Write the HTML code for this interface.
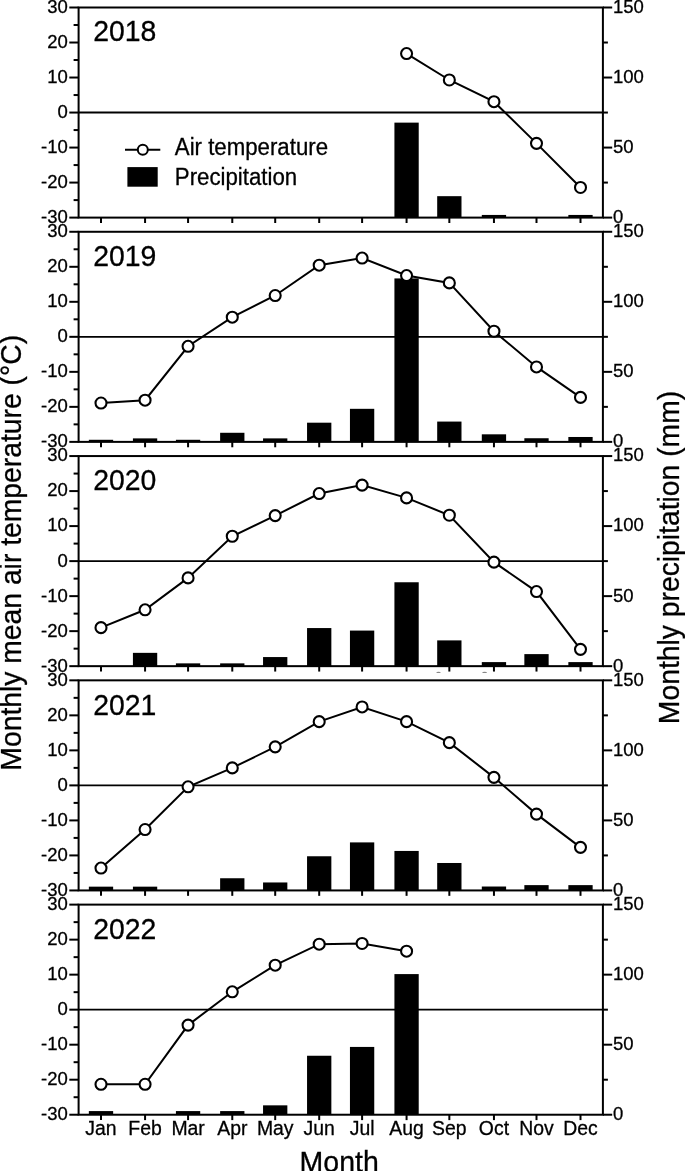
<!DOCTYPE html>
<html><head><meta charset="utf-8"><title>Monthly air temperature and precipitation</title>
<style>html,body{margin:0;padding:0;background:#fff;}body{width:685px;height:1171px;overflow:hidden;}svg{display:block;will-change:transform;}text{font-family:"Liberation Sans",sans-serif;fill:#000;stroke:#000;stroke-width:0.3px;}</style>
</head><body>
<svg width="685" height="1171" viewBox="0 0 685 1171">
<rect x="0" y="0" width="685" height="1171" fill="#fff"/>
<g>
<rect x="394.42" y="122.63" width="24.3" height="94.97" fill="#000"/>
<rect x="437.19" y="196.17" width="24.3" height="21.43" fill="#000"/>
<rect x="481.8" y="214.94" width="24.3" height="2.66" fill="#000"/>
<rect x="568.35" y="214.94" width="24.3" height="2.66" fill="#000"/>
<line x1="78.6" y1="112.55" x2="602.9" y2="112.55" stroke="#000" stroke-width="1.9"/>
<rect x="78.6" y="7.5" width="524.3" height="210.1" fill="none" stroke="#000" stroke-width="2"/>
<line x1="69.3" y1="7.5" x2="78.6" y2="7.5" stroke="#000" stroke-width="2"/>
<line x1="73.6" y1="25.01" x2="78.6" y2="25.01" stroke="#000" stroke-width="2"/>
<line x1="69.3" y1="42.52" x2="78.6" y2="42.52" stroke="#000" stroke-width="2"/>
<line x1="73.6" y1="60.02" x2="78.6" y2="60.02" stroke="#000" stroke-width="2"/>
<line x1="69.3" y1="77.53" x2="78.6" y2="77.53" stroke="#000" stroke-width="2"/>
<line x1="73.6" y1="95.04" x2="78.6" y2="95.04" stroke="#000" stroke-width="2"/>
<line x1="69.3" y1="112.55" x2="78.6" y2="112.55" stroke="#000" stroke-width="2"/>
<line x1="73.6" y1="130.06" x2="78.6" y2="130.06" stroke="#000" stroke-width="2"/>
<line x1="69.3" y1="147.57" x2="78.6" y2="147.57" stroke="#000" stroke-width="2"/>
<line x1="73.6" y1="165.07" x2="78.6" y2="165.07" stroke="#000" stroke-width="2"/>
<line x1="69.3" y1="182.58" x2="78.6" y2="182.58" stroke="#000" stroke-width="2"/>
<line x1="73.6" y1="200.09" x2="78.6" y2="200.09" stroke="#000" stroke-width="2"/>
<line x1="69.3" y1="217.6" x2="78.6" y2="217.6" stroke="#000" stroke-width="2"/>
<line x1="602.9" y1="7.5" x2="612.2" y2="7.5" stroke="#000" stroke-width="2"/>
<line x1="602.9" y1="42.52" x2="607.9" y2="42.52" stroke="#000" stroke-width="2"/>
<line x1="602.9" y1="77.53" x2="612.2" y2="77.53" stroke="#000" stroke-width="2"/>
<line x1="602.9" y1="112.55" x2="607.9" y2="112.55" stroke="#000" stroke-width="2"/>
<line x1="602.9" y1="147.57" x2="612.2" y2="147.57" stroke="#000" stroke-width="2"/>
<line x1="602.9" y1="182.58" x2="607.9" y2="182.58" stroke="#000" stroke-width="2"/>
<line x1="602.9" y1="217.6" x2="612.2" y2="217.6" stroke="#000" stroke-width="2"/>
<line x1="101" y1="217.6" x2="101" y2="223" stroke="#000" stroke-width="2"/>
<line x1="145.07" y1="217.6" x2="145.07" y2="223" stroke="#000" stroke-width="2"/>
<line x1="188.07" y1="217.6" x2="188.07" y2="223" stroke="#000" stroke-width="2"/>
<line x1="232.28" y1="217.6" x2="232.28" y2="223" stroke="#000" stroke-width="2"/>
<line x1="275.2" y1="217.6" x2="275.2" y2="223" stroke="#000" stroke-width="2"/>
<line x1="319.2" y1="217.6" x2="319.2" y2="223" stroke="#000" stroke-width="2"/>
<line x1="362.1" y1="217.6" x2="362.1" y2="223" stroke="#000" stroke-width="2"/>
<line x1="406.57" y1="217.6" x2="406.57" y2="223" stroke="#000" stroke-width="2"/>
<line x1="449.34" y1="217.6" x2="449.34" y2="223" stroke="#000" stroke-width="2"/>
<line x1="493.95" y1="217.6" x2="493.95" y2="223" stroke="#000" stroke-width="2"/>
<line x1="536.5" y1="217.6" x2="536.5" y2="223" stroke="#000" stroke-width="2"/>
<line x1="580.5" y1="217.6" x2="580.5" y2="223" stroke="#000" stroke-width="2"/>
<text transform="translate(67.8 12.9) scale(0.9615 1)" font-size="19.24" text-anchor="end">30</text>
<text transform="translate(67.8 47.92) scale(0.9615 1)" font-size="19.24" text-anchor="end">20</text>
<text transform="translate(67.8 82.93) scale(0.9615 1)" font-size="19.24" text-anchor="end">10</text>
<text transform="translate(67.8 117.95) scale(0.9615 1)" font-size="19.24" text-anchor="end">0</text>
<text transform="translate(67.8 152.97) scale(0.9615 1)" font-size="19.24" text-anchor="end">-10</text>
<text transform="translate(67.8 187.98) scale(0.9615 1)" font-size="19.24" text-anchor="end">-20</text>
<text transform="translate(67.8 223) scale(0.9615 1)" font-size="19.24" text-anchor="end">-30</text>
<text transform="translate(613 12.9) scale(0.9615 1)" font-size="19.24">150</text>
<text transform="translate(613 82.93) scale(0.9615 1)" font-size="19.24">100</text>
<text transform="translate(613 152.97) scale(0.9615 1)" font-size="19.24">50</text>
<text transform="translate(613 223) scale(0.9615 1)" font-size="19.24">0</text>
<text transform="translate(93.2 40.6) scale(0.9615 1)" font-size="29.54">2018</text>
<polyline points="406.57,53.55 449.34,79.98 493.95,101.69 536.5,143.36 580.5,187.49" fill="none" stroke="#000" stroke-width="2" stroke-linejoin="miter"/>
<circle cx="406.57" cy="53.55" r="5.5" fill="#fff" stroke="#000" stroke-width="2.1"/>
<circle cx="449.34" cy="79.98" r="5.5" fill="#fff" stroke="#000" stroke-width="2.1"/>
<circle cx="493.95" cy="101.69" r="5.5" fill="#fff" stroke="#000" stroke-width="2.1"/>
<circle cx="536.5" cy="143.36" r="5.5" fill="#fff" stroke="#000" stroke-width="2.1"/>
<circle cx="580.5" cy="187.49" r="5.5" fill="#fff" stroke="#000" stroke-width="2.1"/>
</g>
<g>
<rect x="88.85" y="439.78" width="24.3" height="2.1" fill="#000"/>
<rect x="132.92" y="438.38" width="24.3" height="3.5" fill="#000"/>
<rect x="175.92" y="439.78" width="24.3" height="2.1" fill="#000"/>
<rect x="220.13" y="432.78" width="24.3" height="9.1" fill="#000"/>
<rect x="263.05" y="438.38" width="24.3" height="3.5" fill="#000"/>
<rect x="307.05" y="422.69" width="24.3" height="19.19" fill="#000"/>
<rect x="349.95" y="408.82" width="24.3" height="33.06" fill="#000"/>
<rect x="394.42" y="278.42" width="24.3" height="163.46" fill="#000"/>
<rect x="437.19" y="421.57" width="24.3" height="20.31" fill="#000"/>
<rect x="481.8" y="434.32" width="24.3" height="7.56" fill="#000"/>
<rect x="524.35" y="438.24" width="24.3" height="3.64" fill="#000"/>
<rect x="568.35" y="436.98" width="24.3" height="4.9" fill="#000"/>
<line x1="78.6" y1="336.83" x2="602.9" y2="336.83" stroke="#000" stroke-width="1.9"/>
<rect x="78.6" y="231.78" width="524.3" height="210.1" fill="none" stroke="#000" stroke-width="2"/>
<line x1="69.3" y1="231.78" x2="78.6" y2="231.78" stroke="#000" stroke-width="2"/>
<line x1="73.6" y1="249.29" x2="78.6" y2="249.29" stroke="#000" stroke-width="2"/>
<line x1="69.3" y1="266.8" x2="78.6" y2="266.8" stroke="#000" stroke-width="2"/>
<line x1="73.6" y1="284.31" x2="78.6" y2="284.31" stroke="#000" stroke-width="2"/>
<line x1="69.3" y1="301.81" x2="78.6" y2="301.81" stroke="#000" stroke-width="2"/>
<line x1="73.6" y1="319.32" x2="78.6" y2="319.32" stroke="#000" stroke-width="2"/>
<line x1="69.3" y1="336.83" x2="78.6" y2="336.83" stroke="#000" stroke-width="2"/>
<line x1="73.6" y1="354.34" x2="78.6" y2="354.34" stroke="#000" stroke-width="2"/>
<line x1="69.3" y1="371.85" x2="78.6" y2="371.85" stroke="#000" stroke-width="2"/>
<line x1="73.6" y1="389.36" x2="78.6" y2="389.36" stroke="#000" stroke-width="2"/>
<line x1="69.3" y1="406.86" x2="78.6" y2="406.86" stroke="#000" stroke-width="2"/>
<line x1="73.6" y1="424.37" x2="78.6" y2="424.37" stroke="#000" stroke-width="2"/>
<line x1="69.3" y1="441.88" x2="78.6" y2="441.88" stroke="#000" stroke-width="2"/>
<line x1="602.9" y1="231.78" x2="612.2" y2="231.78" stroke="#000" stroke-width="2"/>
<line x1="602.9" y1="266.8" x2="607.9" y2="266.8" stroke="#000" stroke-width="2"/>
<line x1="602.9" y1="301.81" x2="612.2" y2="301.81" stroke="#000" stroke-width="2"/>
<line x1="602.9" y1="336.83" x2="607.9" y2="336.83" stroke="#000" stroke-width="2"/>
<line x1="602.9" y1="371.85" x2="612.2" y2="371.85" stroke="#000" stroke-width="2"/>
<line x1="602.9" y1="406.86" x2="607.9" y2="406.86" stroke="#000" stroke-width="2"/>
<line x1="602.9" y1="441.88" x2="612.2" y2="441.88" stroke="#000" stroke-width="2"/>
<line x1="101" y1="441.88" x2="101" y2="447.28" stroke="#000" stroke-width="2"/>
<line x1="145.07" y1="441.88" x2="145.07" y2="447.28" stroke="#000" stroke-width="2"/>
<line x1="188.07" y1="441.88" x2="188.07" y2="447.28" stroke="#000" stroke-width="2"/>
<line x1="232.28" y1="441.88" x2="232.28" y2="447.28" stroke="#000" stroke-width="2"/>
<line x1="275.2" y1="441.88" x2="275.2" y2="447.28" stroke="#000" stroke-width="2"/>
<line x1="319.2" y1="441.88" x2="319.2" y2="447.28" stroke="#000" stroke-width="2"/>
<line x1="362.1" y1="441.88" x2="362.1" y2="447.28" stroke="#000" stroke-width="2"/>
<line x1="406.57" y1="441.88" x2="406.57" y2="447.28" stroke="#000" stroke-width="2"/>
<line x1="449.34" y1="441.88" x2="449.34" y2="447.28" stroke="#000" stroke-width="2"/>
<line x1="493.95" y1="441.88" x2="493.95" y2="447.28" stroke="#000" stroke-width="2"/>
<line x1="536.5" y1="441.88" x2="536.5" y2="447.28" stroke="#000" stroke-width="2"/>
<line x1="580.5" y1="441.88" x2="580.5" y2="447.28" stroke="#000" stroke-width="2"/>
<text transform="translate(67.8 237.18) scale(0.9615 1)" font-size="19.24" text-anchor="end">30</text>
<text transform="translate(67.8 272.2) scale(0.9615 1)" font-size="19.24" text-anchor="end">20</text>
<text transform="translate(67.8 307.21) scale(0.9615 1)" font-size="19.24" text-anchor="end">10</text>
<text transform="translate(67.8 342.23) scale(0.9615 1)" font-size="19.24" text-anchor="end">0</text>
<text transform="translate(67.8 377.25) scale(0.9615 1)" font-size="19.24" text-anchor="end">-10</text>
<text transform="translate(67.8 412.26) scale(0.9615 1)" font-size="19.24" text-anchor="end">-20</text>
<text transform="translate(67.8 447.28) scale(0.9615 1)" font-size="19.24" text-anchor="end">-30</text>
<text transform="translate(613 237.18) scale(0.9615 1)" font-size="19.24">150</text>
<text transform="translate(613 307.21) scale(0.9615 1)" font-size="19.24">100</text>
<text transform="translate(613 377.25) scale(0.9615 1)" font-size="19.24">50</text>
<text transform="translate(613 447.28) scale(0.9615 1)" font-size="19.24">0</text>
<text transform="translate(93.2 265.6) scale(0.9615 1)" font-size="29.54">2019</text>
<polyline points="101,403.01 145.07,400.21 188.07,346.28 232.28,317.22 275.2,295.51 319.2,265.22 362.1,258.04 406.57,275.55 449.34,282.9 493.95,331.23 536.5,366.94 580.5,397.41" fill="none" stroke="#000" stroke-width="2" stroke-linejoin="miter"/>
<circle cx="101" cy="403.01" r="5.5" fill="#fff" stroke="#000" stroke-width="2.1"/>
<circle cx="145.07" cy="400.21" r="5.5" fill="#fff" stroke="#000" stroke-width="2.1"/>
<circle cx="188.07" cy="346.28" r="5.5" fill="#fff" stroke="#000" stroke-width="2.1"/>
<circle cx="232.28" cy="317.22" r="5.5" fill="#fff" stroke="#000" stroke-width="2.1"/>
<circle cx="275.2" cy="295.51" r="5.5" fill="#fff" stroke="#000" stroke-width="2.1"/>
<circle cx="319.2" cy="265.22" r="5.5" fill="#fff" stroke="#000" stroke-width="2.1"/>
<circle cx="362.1" cy="258.04" r="5.5" fill="#fff" stroke="#000" stroke-width="2.1"/>
<circle cx="406.57" cy="275.55" r="5.5" fill="#fff" stroke="#000" stroke-width="2.1"/>
<circle cx="449.34" cy="282.9" r="5.5" fill="#fff" stroke="#000" stroke-width="2.1"/>
<circle cx="493.95" cy="331.23" r="5.5" fill="#fff" stroke="#000" stroke-width="2.1"/>
<circle cx="536.5" cy="366.94" r="5.5" fill="#fff" stroke="#000" stroke-width="2.1"/>
<circle cx="580.5" cy="397.41" r="5.5" fill="#fff" stroke="#000" stroke-width="2.1"/>
</g>
<g>
<rect x="132.92" y="652.85" width="24.3" height="13.31" fill="#000"/>
<rect x="175.92" y="663.36" width="24.3" height="2.8" fill="#000"/>
<rect x="220.13" y="663.36" width="24.3" height="2.8" fill="#000"/>
<rect x="263.05" y="657.06" width="24.3" height="9.1" fill="#000"/>
<rect x="307.05" y="628.06" width="24.3" height="38.1" fill="#000"/>
<rect x="349.95" y="630.58" width="24.3" height="35.58" fill="#000"/>
<rect x="394.42" y="582.26" width="24.3" height="83.9" fill="#000"/>
<rect x="437.19" y="640.39" width="24.3" height="25.77" fill="#000"/>
<rect x="481.8" y="662.1" width="24.3" height="4.06" fill="#000"/>
<rect x="524.35" y="654.11" width="24.3" height="12.05" fill="#000"/>
<rect x="568.35" y="662.1" width="24.3" height="4.06" fill="#000"/>
<line x1="78.6" y1="561.11" x2="602.9" y2="561.11" stroke="#000" stroke-width="1.9"/>
<rect x="78.6" y="456.06" width="524.3" height="210.1" fill="none" stroke="#000" stroke-width="2"/>
<line x1="69.3" y1="456.06" x2="78.6" y2="456.06" stroke="#000" stroke-width="2"/>
<line x1="73.6" y1="473.57" x2="78.6" y2="473.57" stroke="#000" stroke-width="2"/>
<line x1="69.3" y1="491.08" x2="78.6" y2="491.08" stroke="#000" stroke-width="2"/>
<line x1="73.6" y1="508.58" x2="78.6" y2="508.58" stroke="#000" stroke-width="2"/>
<line x1="69.3" y1="526.09" x2="78.6" y2="526.09" stroke="#000" stroke-width="2"/>
<line x1="73.6" y1="543.6" x2="78.6" y2="543.6" stroke="#000" stroke-width="2"/>
<line x1="69.3" y1="561.11" x2="78.6" y2="561.11" stroke="#000" stroke-width="2"/>
<line x1="73.6" y1="578.62" x2="78.6" y2="578.62" stroke="#000" stroke-width="2"/>
<line x1="69.3" y1="596.13" x2="78.6" y2="596.13" stroke="#000" stroke-width="2"/>
<line x1="73.6" y1="613.63" x2="78.6" y2="613.63" stroke="#000" stroke-width="2"/>
<line x1="69.3" y1="631.14" x2="78.6" y2="631.14" stroke="#000" stroke-width="2"/>
<line x1="73.6" y1="648.65" x2="78.6" y2="648.65" stroke="#000" stroke-width="2"/>
<line x1="69.3" y1="666.16" x2="78.6" y2="666.16" stroke="#000" stroke-width="2"/>
<line x1="602.9" y1="456.06" x2="612.2" y2="456.06" stroke="#000" stroke-width="2"/>
<line x1="602.9" y1="491.08" x2="607.9" y2="491.08" stroke="#000" stroke-width="2"/>
<line x1="602.9" y1="526.09" x2="612.2" y2="526.09" stroke="#000" stroke-width="2"/>
<line x1="602.9" y1="561.11" x2="607.9" y2="561.11" stroke="#000" stroke-width="2"/>
<line x1="602.9" y1="596.13" x2="612.2" y2="596.13" stroke="#000" stroke-width="2"/>
<line x1="602.9" y1="631.14" x2="607.9" y2="631.14" stroke="#000" stroke-width="2"/>
<line x1="602.9" y1="666.16" x2="612.2" y2="666.16" stroke="#000" stroke-width="2"/>
<line x1="101" y1="666.16" x2="101" y2="671.56" stroke="#000" stroke-width="2"/>
<line x1="145.07" y1="666.16" x2="145.07" y2="671.56" stroke="#000" stroke-width="2"/>
<line x1="188.07" y1="666.16" x2="188.07" y2="671.56" stroke="#000" stroke-width="2"/>
<line x1="232.28" y1="666.16" x2="232.28" y2="671.56" stroke="#000" stroke-width="2"/>
<line x1="275.2" y1="666.16" x2="275.2" y2="671.56" stroke="#000" stroke-width="2"/>
<line x1="319.2" y1="666.16" x2="319.2" y2="671.56" stroke="#000" stroke-width="2"/>
<line x1="362.1" y1="666.16" x2="362.1" y2="671.56" stroke="#000" stroke-width="2"/>
<line x1="406.57" y1="666.16" x2="406.57" y2="671.56" stroke="#000" stroke-width="2"/>
<line x1="449.34" y1="666.16" x2="449.34" y2="671.56" stroke="#000" stroke-width="2"/>
<line x1="493.95" y1="666.16" x2="493.95" y2="671.56" stroke="#000" stroke-width="2"/>
<line x1="536.5" y1="666.16" x2="536.5" y2="671.56" stroke="#000" stroke-width="2"/>
<line x1="580.5" y1="666.16" x2="580.5" y2="671.56" stroke="#000" stroke-width="2"/>
<text transform="translate(67.8 461.46) scale(0.9615 1)" font-size="19.24" text-anchor="end">30</text>
<text transform="translate(67.8 496.48) scale(0.9615 1)" font-size="19.24" text-anchor="end">20</text>
<text transform="translate(67.8 531.49) scale(0.9615 1)" font-size="19.24" text-anchor="end">10</text>
<text transform="translate(67.8 566.51) scale(0.9615 1)" font-size="19.24" text-anchor="end">0</text>
<text transform="translate(67.8 601.53) scale(0.9615 1)" font-size="19.24" text-anchor="end">-10</text>
<text transform="translate(67.8 636.54) scale(0.9615 1)" font-size="19.24" text-anchor="end">-20</text>
<text transform="translate(67.8 671.56) scale(0.9615 1)" font-size="19.24" text-anchor="end">-30</text>
<text transform="translate(613 461.46) scale(0.9615 1)" font-size="19.24">150</text>
<text transform="translate(613 531.49) scale(0.9615 1)" font-size="19.24">100</text>
<text transform="translate(613 601.53) scale(0.9615 1)" font-size="19.24">50</text>
<text transform="translate(613 671.56) scale(0.9615 1)" font-size="19.24">0</text>
<text transform="translate(93.2 490.4) scale(0.9615 1)" font-size="29.54">2020</text>
<polyline points="101,627.64 145.07,609.78 188.07,577.92 232.28,536.25 275.2,515.59 319.2,493.53 362.1,485.12 406.57,497.9 449.34,515.24 493.95,562.16 536.5,591.57 580.5,649.35" fill="none" stroke="#000" stroke-width="2" stroke-linejoin="miter"/>
<circle cx="101" cy="627.64" r="5.5" fill="#fff" stroke="#000" stroke-width="2.1"/>
<circle cx="145.07" cy="609.78" r="5.5" fill="#fff" stroke="#000" stroke-width="2.1"/>
<circle cx="188.07" cy="577.92" r="5.5" fill="#fff" stroke="#000" stroke-width="2.1"/>
<circle cx="232.28" cy="536.25" r="5.5" fill="#fff" stroke="#000" stroke-width="2.1"/>
<circle cx="275.2" cy="515.59" r="5.5" fill="#fff" stroke="#000" stroke-width="2.1"/>
<circle cx="319.2" cy="493.53" r="5.5" fill="#fff" stroke="#000" stroke-width="2.1"/>
<circle cx="362.1" cy="485.12" r="5.5" fill="#fff" stroke="#000" stroke-width="2.1"/>
<circle cx="406.57" cy="497.9" r="5.5" fill="#fff" stroke="#000" stroke-width="2.1"/>
<circle cx="449.34" cy="515.24" r="5.5" fill="#fff" stroke="#000" stroke-width="2.1"/>
<circle cx="493.95" cy="562.16" r="5.5" fill="#fff" stroke="#000" stroke-width="2.1"/>
<circle cx="536.5" cy="591.57" r="5.5" fill="#fff" stroke="#000" stroke-width="2.1"/>
<circle cx="580.5" cy="649.35" r="5.5" fill="#fff" stroke="#000" stroke-width="2.1"/>
</g>
<g>
<rect x="88.85" y="886.66" width="24.3" height="3.78" fill="#000"/>
<rect x="132.92" y="886.66" width="24.3" height="3.78" fill="#000"/>
<rect x="220.13" y="878.25" width="24.3" height="12.19" fill="#000"/>
<rect x="263.05" y="882.46" width="24.3" height="7.98" fill="#000"/>
<rect x="307.05" y="856.26" width="24.3" height="34.18" fill="#000"/>
<rect x="349.95" y="842.4" width="24.3" height="48.04" fill="#000"/>
<rect x="394.42" y="850.94" width="24.3" height="39.5" fill="#000"/>
<rect x="437.19" y="862.99" width="24.3" height="27.45" fill="#000"/>
<rect x="481.8" y="886.52" width="24.3" height="3.92" fill="#000"/>
<rect x="524.35" y="885.12" width="24.3" height="5.32" fill="#000"/>
<rect x="568.35" y="885.12" width="24.3" height="5.32" fill="#000"/>
<line x1="78.6" y1="785.39" x2="602.9" y2="785.39" stroke="#000" stroke-width="1.9"/>
<rect x="78.6" y="680.34" width="524.3" height="210.1" fill="none" stroke="#000" stroke-width="2"/>
<line x1="69.3" y1="680.34" x2="78.6" y2="680.34" stroke="#000" stroke-width="2"/>
<line x1="73.6" y1="697.85" x2="78.6" y2="697.85" stroke="#000" stroke-width="2"/>
<line x1="69.3" y1="715.36" x2="78.6" y2="715.36" stroke="#000" stroke-width="2"/>
<line x1="73.6" y1="732.87" x2="78.6" y2="732.87" stroke="#000" stroke-width="2"/>
<line x1="69.3" y1="750.37" x2="78.6" y2="750.37" stroke="#000" stroke-width="2"/>
<line x1="73.6" y1="767.88" x2="78.6" y2="767.88" stroke="#000" stroke-width="2"/>
<line x1="69.3" y1="785.39" x2="78.6" y2="785.39" stroke="#000" stroke-width="2"/>
<line x1="73.6" y1="802.9" x2="78.6" y2="802.9" stroke="#000" stroke-width="2"/>
<line x1="69.3" y1="820.41" x2="78.6" y2="820.41" stroke="#000" stroke-width="2"/>
<line x1="73.6" y1="837.91" x2="78.6" y2="837.91" stroke="#000" stroke-width="2"/>
<line x1="69.3" y1="855.42" x2="78.6" y2="855.42" stroke="#000" stroke-width="2"/>
<line x1="73.6" y1="872.93" x2="78.6" y2="872.93" stroke="#000" stroke-width="2"/>
<line x1="69.3" y1="890.44" x2="78.6" y2="890.44" stroke="#000" stroke-width="2"/>
<line x1="602.9" y1="680.34" x2="612.2" y2="680.34" stroke="#000" stroke-width="2"/>
<line x1="602.9" y1="715.36" x2="607.9" y2="715.36" stroke="#000" stroke-width="2"/>
<line x1="602.9" y1="750.37" x2="612.2" y2="750.37" stroke="#000" stroke-width="2"/>
<line x1="602.9" y1="785.39" x2="607.9" y2="785.39" stroke="#000" stroke-width="2"/>
<line x1="602.9" y1="820.41" x2="612.2" y2="820.41" stroke="#000" stroke-width="2"/>
<line x1="602.9" y1="855.42" x2="607.9" y2="855.42" stroke="#000" stroke-width="2"/>
<line x1="602.9" y1="890.44" x2="612.2" y2="890.44" stroke="#000" stroke-width="2"/>
<line x1="101" y1="890.44" x2="101" y2="895.84" stroke="#000" stroke-width="2"/>
<line x1="145.07" y1="890.44" x2="145.07" y2="895.84" stroke="#000" stroke-width="2"/>
<line x1="188.07" y1="890.44" x2="188.07" y2="895.84" stroke="#000" stroke-width="2"/>
<line x1="232.28" y1="890.44" x2="232.28" y2="895.84" stroke="#000" stroke-width="2"/>
<line x1="275.2" y1="890.44" x2="275.2" y2="895.84" stroke="#000" stroke-width="2"/>
<line x1="319.2" y1="890.44" x2="319.2" y2="895.84" stroke="#000" stroke-width="2"/>
<line x1="362.1" y1="890.44" x2="362.1" y2="895.84" stroke="#000" stroke-width="2"/>
<line x1="406.57" y1="890.44" x2="406.57" y2="895.84" stroke="#000" stroke-width="2"/>
<line x1="449.34" y1="890.44" x2="449.34" y2="895.84" stroke="#000" stroke-width="2"/>
<line x1="493.95" y1="890.44" x2="493.95" y2="895.84" stroke="#000" stroke-width="2"/>
<line x1="536.5" y1="890.44" x2="536.5" y2="895.84" stroke="#000" stroke-width="2"/>
<line x1="580.5" y1="890.44" x2="580.5" y2="895.84" stroke="#000" stroke-width="2"/>
<text transform="translate(67.8 685.74) scale(0.9615 1)" font-size="19.24" text-anchor="end">30</text>
<text transform="translate(67.8 720.76) scale(0.9615 1)" font-size="19.24" text-anchor="end">20</text>
<text transform="translate(67.8 755.77) scale(0.9615 1)" font-size="19.24" text-anchor="end">10</text>
<text transform="translate(67.8 790.79) scale(0.9615 1)" font-size="19.24" text-anchor="end">0</text>
<text transform="translate(67.8 825.81) scale(0.9615 1)" font-size="19.24" text-anchor="end">-10</text>
<text transform="translate(67.8 860.82) scale(0.9615 1)" font-size="19.24" text-anchor="end">-20</text>
<text transform="translate(67.8 895.84) scale(0.9615 1)" font-size="19.24" text-anchor="end">-30</text>
<text transform="translate(613 685.74) scale(0.9615 1)" font-size="19.24">150</text>
<text transform="translate(613 755.77) scale(0.9615 1)" font-size="19.24">100</text>
<text transform="translate(613 825.81) scale(0.9615 1)" font-size="19.24">50</text>
<text transform="translate(613 895.84) scale(0.9615 1)" font-size="19.24">0</text>
<text transform="translate(93.2 715) scale(0.9615 1)" font-size="29.54">2021</text>
<polyline points="101,868.03 145.07,829.51 188.07,786.79 232.28,767.88 275.2,746.87 319.2,721.66 362.1,706.95 406.57,721.66 449.34,742.67 493.95,777.34 536.5,814.1 580.5,847.37" fill="none" stroke="#000" stroke-width="2" stroke-linejoin="miter"/>
<circle cx="101" cy="868.03" r="5.5" fill="#fff" stroke="#000" stroke-width="2.1"/>
<circle cx="145.07" cy="829.51" r="5.5" fill="#fff" stroke="#000" stroke-width="2.1"/>
<circle cx="188.07" cy="786.79" r="5.5" fill="#fff" stroke="#000" stroke-width="2.1"/>
<circle cx="232.28" cy="767.88" r="5.5" fill="#fff" stroke="#000" stroke-width="2.1"/>
<circle cx="275.2" cy="746.87" r="5.5" fill="#fff" stroke="#000" stroke-width="2.1"/>
<circle cx="319.2" cy="721.66" r="5.5" fill="#fff" stroke="#000" stroke-width="2.1"/>
<circle cx="362.1" cy="706.95" r="5.5" fill="#fff" stroke="#000" stroke-width="2.1"/>
<circle cx="406.57" cy="721.66" r="5.5" fill="#fff" stroke="#000" stroke-width="2.1"/>
<circle cx="449.34" cy="742.67" r="5.5" fill="#fff" stroke="#000" stroke-width="2.1"/>
<circle cx="493.95" cy="777.34" r="5.5" fill="#fff" stroke="#000" stroke-width="2.1"/>
<circle cx="536.5" cy="814.1" r="5.5" fill="#fff" stroke="#000" stroke-width="2.1"/>
<circle cx="580.5" cy="847.37" r="5.5" fill="#fff" stroke="#000" stroke-width="2.1"/>
</g>
<g>
<rect x="88.85" y="1111.08" width="24.3" height="3.64" fill="#000"/>
<rect x="175.92" y="1111.08" width="24.3" height="3.64" fill="#000"/>
<rect x="220.13" y="1111.08" width="24.3" height="3.64" fill="#000"/>
<rect x="263.05" y="1105.34" width="24.3" height="9.38" fill="#000"/>
<rect x="307.05" y="1055.75" width="24.3" height="58.97" fill="#000"/>
<rect x="349.95" y="1046.93" width="24.3" height="67.79" fill="#000"/>
<rect x="394.42" y="974.09" width="24.3" height="140.63" fill="#000"/>
<line x1="78.6" y1="1009.67" x2="602.9" y2="1009.67" stroke="#000" stroke-width="1.9"/>
<rect x="78.6" y="904.62" width="524.3" height="210.1" fill="none" stroke="#000" stroke-width="2"/>
<line x1="69.3" y1="904.62" x2="78.6" y2="904.62" stroke="#000" stroke-width="2"/>
<line x1="73.6" y1="922.13" x2="78.6" y2="922.13" stroke="#000" stroke-width="2"/>
<line x1="69.3" y1="939.64" x2="78.6" y2="939.64" stroke="#000" stroke-width="2"/>
<line x1="73.6" y1="957.14" x2="78.6" y2="957.14" stroke="#000" stroke-width="2"/>
<line x1="69.3" y1="974.65" x2="78.6" y2="974.65" stroke="#000" stroke-width="2"/>
<line x1="73.6" y1="992.16" x2="78.6" y2="992.16" stroke="#000" stroke-width="2"/>
<line x1="69.3" y1="1009.67" x2="78.6" y2="1009.67" stroke="#000" stroke-width="2"/>
<line x1="73.6" y1="1027.18" x2="78.6" y2="1027.18" stroke="#000" stroke-width="2"/>
<line x1="69.3" y1="1044.69" x2="78.6" y2="1044.69" stroke="#000" stroke-width="2"/>
<line x1="73.6" y1="1062.19" x2="78.6" y2="1062.19" stroke="#000" stroke-width="2"/>
<line x1="69.3" y1="1079.7" x2="78.6" y2="1079.7" stroke="#000" stroke-width="2"/>
<line x1="73.6" y1="1097.21" x2="78.6" y2="1097.21" stroke="#000" stroke-width="2"/>
<line x1="69.3" y1="1114.72" x2="78.6" y2="1114.72" stroke="#000" stroke-width="2"/>
<line x1="602.9" y1="904.62" x2="612.2" y2="904.62" stroke="#000" stroke-width="2"/>
<line x1="602.9" y1="939.64" x2="607.9" y2="939.64" stroke="#000" stroke-width="2"/>
<line x1="602.9" y1="974.65" x2="612.2" y2="974.65" stroke="#000" stroke-width="2"/>
<line x1="602.9" y1="1009.67" x2="607.9" y2="1009.67" stroke="#000" stroke-width="2"/>
<line x1="602.9" y1="1044.69" x2="612.2" y2="1044.69" stroke="#000" stroke-width="2"/>
<line x1="602.9" y1="1079.7" x2="607.9" y2="1079.7" stroke="#000" stroke-width="2"/>
<line x1="602.9" y1="1114.72" x2="612.2" y2="1114.72" stroke="#000" stroke-width="2"/>
<line x1="101" y1="1114.72" x2="101" y2="1120.12" stroke="#000" stroke-width="2"/>
<line x1="145.07" y1="1114.72" x2="145.07" y2="1120.12" stroke="#000" stroke-width="2"/>
<line x1="188.07" y1="1114.72" x2="188.07" y2="1120.12" stroke="#000" stroke-width="2"/>
<line x1="232.28" y1="1114.72" x2="232.28" y2="1120.12" stroke="#000" stroke-width="2"/>
<line x1="275.2" y1="1114.72" x2="275.2" y2="1120.12" stroke="#000" stroke-width="2"/>
<line x1="319.2" y1="1114.72" x2="319.2" y2="1120.12" stroke="#000" stroke-width="2"/>
<line x1="362.1" y1="1114.72" x2="362.1" y2="1120.12" stroke="#000" stroke-width="2"/>
<line x1="406.57" y1="1114.72" x2="406.57" y2="1120.12" stroke="#000" stroke-width="2"/>
<line x1="449.34" y1="1114.72" x2="449.34" y2="1120.12" stroke="#000" stroke-width="2"/>
<line x1="493.95" y1="1114.72" x2="493.95" y2="1120.12" stroke="#000" stroke-width="2"/>
<line x1="536.5" y1="1114.72" x2="536.5" y2="1120.12" stroke="#000" stroke-width="2"/>
<line x1="580.5" y1="1114.72" x2="580.5" y2="1120.12" stroke="#000" stroke-width="2"/>
<text transform="translate(67.8 910.02) scale(0.9615 1)" font-size="19.24" text-anchor="end">30</text>
<text transform="translate(67.8 945.04) scale(0.9615 1)" font-size="19.24" text-anchor="end">20</text>
<text transform="translate(67.8 980.05) scale(0.9615 1)" font-size="19.24" text-anchor="end">10</text>
<text transform="translate(67.8 1015.07) scale(0.9615 1)" font-size="19.24" text-anchor="end">0</text>
<text transform="translate(67.8 1050.09) scale(0.9615 1)" font-size="19.24" text-anchor="end">-10</text>
<text transform="translate(67.8 1085.1) scale(0.9615 1)" font-size="19.24" text-anchor="end">-20</text>
<text transform="translate(67.8 1120.12) scale(0.9615 1)" font-size="19.24" text-anchor="end">-30</text>
<text transform="translate(613 910.02) scale(0.9615 1)" font-size="19.24">150</text>
<text transform="translate(613 980.05) scale(0.9615 1)" font-size="19.24">100</text>
<text transform="translate(613 1050.09) scale(0.9615 1)" font-size="19.24">50</text>
<text transform="translate(613 1120.12) scale(0.9615 1)" font-size="19.24">0</text>
<text transform="translate(93.2 938.9) scale(0.9615 1)" font-size="29.54">2022</text>
<polyline points="101,1084.26 145.07,1084.26 188.07,1025.08 232.28,991.81 275.2,965.2 319.2,944.19 362.1,943.49 406.57,951.19" fill="none" stroke="#000" stroke-width="2" stroke-linejoin="miter"/>
<circle cx="101" cy="1084.26" r="5.5" fill="#fff" stroke="#000" stroke-width="2.1"/>
<circle cx="145.07" cy="1084.26" r="5.5" fill="#fff" stroke="#000" stroke-width="2.1"/>
<circle cx="188.07" cy="1025.08" r="5.5" fill="#fff" stroke="#000" stroke-width="2.1"/>
<circle cx="232.28" cy="991.81" r="5.5" fill="#fff" stroke="#000" stroke-width="2.1"/>
<circle cx="275.2" cy="965.2" r="5.5" fill="#fff" stroke="#000" stroke-width="2.1"/>
<circle cx="319.2" cy="944.19" r="5.5" fill="#fff" stroke="#000" stroke-width="2.1"/>
<circle cx="362.1" cy="943.49" r="5.5" fill="#fff" stroke="#000" stroke-width="2.1"/>
<circle cx="406.57" cy="951.19" r="5.5" fill="#fff" stroke="#000" stroke-width="2.1"/>
</g>
<ellipse cx="438.5" cy="672.4" rx="2.2" ry="0.7" fill="#888"/>
<ellipse cx="484.6" cy="672.4" rx="2.4" ry="0.7" fill="#888"/>
<line x1="125" y1="149.8" x2="160.3" y2="149.8" stroke="#000" stroke-width="2"/>
<circle cx="142.8" cy="149.8" r="5" fill="#fff" stroke="#000" stroke-width="2"/>
<rect x="127.4" y="167.1" width="30.3" height="19.6" fill="#000"/>
<text transform="translate(174.8 155.2) scale(0.9615 1)" font-size="23.14">Air temperature</text>
<text transform="translate(174.8 184.6) scale(0.9615 1)" font-size="23.14">Precipitation</text>
<text transform="translate(101 1135) scale(0.9615 1)" font-size="20.18" text-anchor="middle">Jan</text>
<text transform="translate(145.07 1135) scale(0.9615 1)" font-size="20.18" text-anchor="middle">Feb</text>
<text transform="translate(188.07 1135) scale(0.9615 1)" font-size="20.18" text-anchor="middle">Mar</text>
<text transform="translate(232.28 1135) scale(0.9615 1)" font-size="20.18" text-anchor="middle">Apr</text>
<text transform="translate(275.2 1135) scale(0.9615 1)" font-size="20.18" text-anchor="middle">May</text>
<text transform="translate(319.2 1135) scale(0.9615 1)" font-size="20.18" text-anchor="middle">Jun</text>
<text transform="translate(362.1 1135) scale(0.9615 1)" font-size="20.18" text-anchor="middle">Jul</text>
<text transform="translate(406.57 1135) scale(0.9615 1)" font-size="20.18" text-anchor="middle">Aug</text>
<text transform="translate(449.34 1135) scale(0.9615 1)" font-size="20.18" text-anchor="middle">Sep</text>
<text transform="translate(493.95 1135) scale(0.9615 1)" font-size="20.18" text-anchor="middle">Oct</text>
<text transform="translate(536.5 1135) scale(0.9615 1)" font-size="20.18" text-anchor="middle">Nov</text>
<text transform="translate(580.5 1135) scale(0.9615 1)" font-size="20.18" text-anchor="middle">Dec</text>
<text transform="translate(339.2 1172) scale(0.9615 1)" font-size="29.64" text-anchor="middle">Month</text>
<text transform="translate(21.4 552.75) rotate(-90) scale(0.9615 1)" font-size="29.43" text-anchor="middle">Monthly mean air temperature (°C)</text>
<text transform="translate(678.6 557.5) rotate(-90) scale(0.9615 1)" font-size="29.43" text-anchor="middle">Monthly precipitation (mm)</text>
</svg>
</body></html>
